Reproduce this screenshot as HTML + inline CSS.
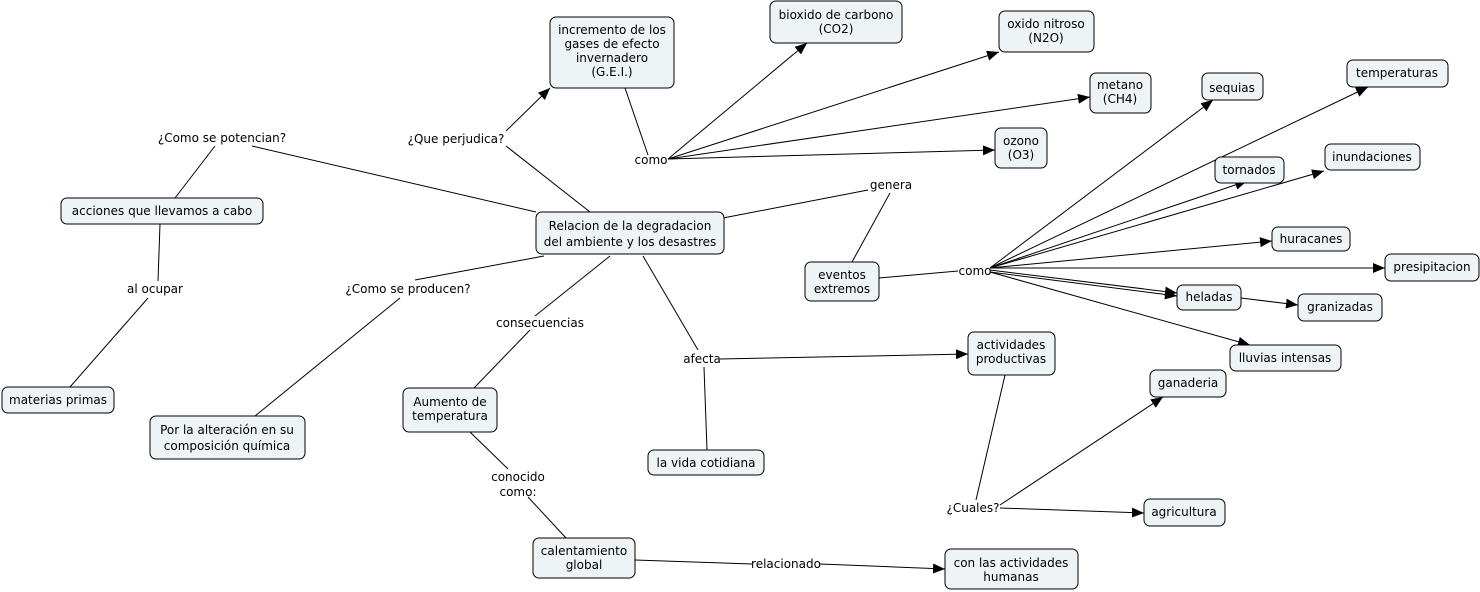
<!DOCTYPE html>
<html><head><meta charset="utf-8"><style>
body{margin:0;background:#fff}
svg{display:block}
text{font-family:"DejaVu Sans","Liberation Sans",sans-serif;font-size:12px;fill:#000;text-anchor:middle}
rect{fill:#eef3f5;stroke:#000;stroke-width:1}
line{stroke:#000;stroke-width:1}
</style></head><body>
<svg width="1480" height="592" viewBox="0 0 1480 592" xmlns="http://www.w3.org/2000/svg">
<defs><marker id="a" markerWidth="12" markerHeight="10" refX="12" refY="5" orient="auto" markerUnits="userSpaceOnUse"><path d="M0,0 L12,5 L0,10 z" fill="#000"/></marker></defs>
<g>
<line x1="175" y1="198" x2="215" y2="146"/>
<line x1="252" y1="146" x2="536" y2="212"/>
<line x1="70" y1="387" x2="148" y2="298"/>
<line x1="158" y1="281" x2="160" y2="224"/>
<line x1="255" y1="416" x2="400" y2="298"/>
<line x1="415" y1="280" x2="544" y2="256"/>
<line x1="590" y1="212" x2="506" y2="146"/>
<line x1="506" y1="131" x2="550" y2="88" marker-end="url(#a)"/>
<line x1="723" y1="218" x2="868" y2="190"/>
<line x1="890" y1="193" x2="852" y2="262"/>
<line x1="610" y1="256" x2="535" y2="316"/>
<line x1="530" y1="330" x2="474" y2="388"/>
<line x1="643" y1="256" x2="698" y2="350"/>
<line x1="720" y1="359" x2="968" y2="354" marker-end="url(#a)"/>
<line x1="704" y1="367" x2="707" y2="450"/>
<line x1="470" y1="432" x2="508" y2="469"/>
<line x1="528" y1="497" x2="566" y2="538"/>
<line x1="635" y1="560" x2="752" y2="564"/>
<line x1="820" y1="564" x2="945" y2="569" marker-end="url(#a)"/>
<line x1="625" y1="88" x2="648" y2="155"/>
<line x1="668" y1="159" x2="807" y2="43" marker-end="url(#a)"/>
<line x1="668" y1="159" x2="999" y2="52" marker-end="url(#a)"/>
<line x1="668" y1="159" x2="1090" y2="97" marker-end="url(#a)"/>
<line x1="668" y1="159" x2="995" y2="150" marker-end="url(#a)"/>
<line x1="879" y1="278" x2="958" y2="271"/>
<line x1="990" y1="268" x2="1213" y2="100" marker-end="url(#a)"/>
<line x1="990" y1="268" x2="1368" y2="87" marker-end="url(#a)"/>
<line x1="990" y1="268" x2="1247" y2="181" marker-end="url(#a)"/>
<line x1="990" y1="268" x2="1324" y2="171" marker-end="url(#a)"/>
<line x1="990" y1="268" x2="1272" y2="241" marker-end="url(#a)"/>
<line x1="990" y1="268" x2="1385" y2="268" marker-end="url(#a)"/>
<line x1="990" y1="270" x2="1177" y2="293" marker-end="url(#a)"/>
<line x1="990" y1="272" x2="1177" y2="296" marker-end="url(#a)"/>
<line x1="990" y1="272" x2="1250" y2="345" marker-end="url(#a)"/>
<line x1="1241" y1="298" x2="1298" y2="305" marker-end="url(#a)"/>
<line x1="1005" y1="375" x2="976" y2="500"/>
<line x1="1000" y1="505" x2="1163" y2="397" marker-end="url(#a)"/>
<line x1="1000" y1="508" x2="1144" y2="513" marker-end="url(#a)"/>
</g>
<g>
<rect x="550" y="17" width="124" height="71" rx="6"/>
<rect x="770" y="1" width="132" height="42" rx="6"/>
<rect x="999" y="11" width="95" height="41" rx="6"/>
<rect x="1090" y="73" width="61" height="40" rx="6"/>
<rect x="995" y="128" width="52" height="40" rx="6"/>
<rect x="1202" y="73" width="61" height="27" rx="6"/>
<rect x="1347" y="60" width="101" height="27" rx="6"/>
<rect x="1215" y="157" width="69" height="26" rx="6"/>
<rect x="1325" y="144" width="95" height="26" rx="6"/>
<rect x="1272" y="227" width="78" height="24" rx="6"/>
<rect x="1385" y="254" width="94" height="27" rx="6"/>
<rect x="1177" y="285" width="64" height="25" rx="6"/>
<rect x="1298" y="294" width="84" height="27" rx="6"/>
<rect x="1230" y="345" width="111" height="26" rx="6"/>
<rect x="805" y="262" width="74" height="39" rx="6"/>
<rect x="536" y="212" width="188" height="42" rx="6"/>
<rect x="61" y="198" width="202" height="26" rx="6"/>
<rect x="2" y="387" width="112" height="26" rx="6"/>
<rect x="150" y="416" width="155" height="43" rx="6"/>
<rect x="403" y="388" width="94" height="44" rx="6"/>
<rect x="648" y="450" width="116" height="25" rx="6"/>
<rect x="968" y="332" width="87" height="43" rx="6"/>
<rect x="1150" y="370" width="76" height="27" rx="6"/>
<rect x="1144" y="499" width="81" height="27" rx="6"/>
<rect x="533" y="538" width="102" height="40" rx="6"/>
<rect x="945" y="549" width="133" height="40" rx="6"/>
</g>
<g>
<text x="612" y="34">incremento de los</text><text x="612" y="48">gases de efecto</text><text x="612" y="62">invernadero</text><text x="612" y="76">(G.E.I.)</text>
<text x="836" y="19">bioxido de carbono</text><text x="836" y="33">(CO2)</text>
<text x="1046" y="28">oxido nitroso</text><text x="1046" y="42">(N2O)</text>
<text x="1120" y="89">metano</text><text x="1120" y="103">(CH4)</text>
<text x="1021" y="145">ozono</text><text x="1021" y="159">(O3)</text>
<text x="1232" y="92">sequias</text>
<text x="1397" y="77">temperaturas</text>
<text x="1249" y="174">tornados</text>
<text x="1372" y="161">inundaciones</text>
<text x="1311" y="243">huracanes</text>
<text x="1432" y="271">presipitacion</text>
<text x="1209" y="301">heladas</text>
<text x="1340" y="311">granizadas</text>
<text x="1285" y="362">lluvias intensas</text>
<text x="842" y="279">eventos</text><text x="842" y="293">extremos</text>
<text x="630" y="230">Relacion de la degradacion</text><text x="630" y="246">del ambiente y los desastres</text>
<text x="162" y="215">acciones que llevamos a cabo</text>
<text x="58" y="404">materias primas</text>
<text x="227" y="434">Por la alteración en su</text><text x="227" y="450">composición química</text>
<text x="450" y="406">Aumento de</text><text x="450" y="420">temperatura</text>
<text x="706" y="467">la vida cotidiana</text>
<text x="1011" y="349">actividades</text><text x="1011" y="363">productivas</text>
<text x="1188" y="387">ganaderia</text>
<text x="1184" y="516">agricultura</text>
<text x="584" y="555">calentamiento</text><text x="584" y="569">global</text>
<text x="1011" y="567">con las actividades</text><text x="1011" y="581">humanas</text>
<text x="222" y="142">¿Como se potencian?</text>
<text x="456" y="143">¿Que perjudica?</text>
<text x="651" y="164">como</text>
<text x="891" y="189">genera</text>
<text x="975" y="275">como</text>
<text x="155" y="293">al ocupar</text>
<text x="408" y="293">¿Como se producen?</text>
<text x="540" y="327">consecuencias</text>
<text x="702" y="363">afecta</text>
<text x="518" y="481">conocido</text><text x="518" y="496">como:</text>
<text x="973" y="512">¿Cuales?</text>
<text x="786" y="568">relacionado</text>
</g>
</svg>
</body></html>
